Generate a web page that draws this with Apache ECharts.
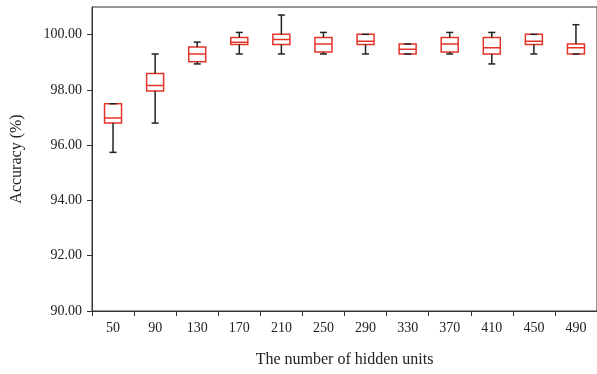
<!DOCTYPE html>
<html>
<head>
<meta charset="utf-8">
<script src="https://cdn.jsdelivr.net/npm/echarts@6/dist/echarts.min.js"></script>
<style>
  html, body { margin: 0; padding: 0; background: #fff; }
  #chart { width: 597px; height: 374px; }
</style>
</head>
<body>
<div id="chart"></div>
<script>
// hidden units on the x axis
const units = ['50', '90', '130', '170', '210', '250', '290', '330', '370', '410', '450', '490'];

// box statistics (accuracy, %)
const minVals = [95.74, 96.80, 98.94, 99.30, 99.30, 99.30, 99.30, 99.30, 99.30, 98.94, 99.30, 99.30];
const q1Vals = [96.80, 97.96, 99.02, 99.64, 99.64, 99.37, 99.64, 99.30, 99.37, 99.30, 99.64, 99.30];
const medVals = [96.98, 98.16, 99.30, 99.72, 99.82, 99.66, 99.76, 99.47, 99.66, 99.53, 99.76, 99.53];
const q3Vals = [97.50, 98.59, 99.55, 99.90, 100.01, 99.90, 100.01, 99.66, 99.90, 99.90, 100.01, 99.66];
const maxVals = [97.50, 99.30, 99.73, 100.08, 100.71, 100.08, 100.01, 99.66, 100.08, 100.08, 100.01, 100.36];

const yTicks = [90, 92, 94, 96, 98, 100];

const chart = echarts.init(document.getElementById('chart'));

const font = 'Liberation Serif';
const red = '#e3342a';

// box part only: whiskers are drawn on top in black
const boxData = units.map((u, i) => [q1Vals[i], q1Vals[i], medVals[i], q3Vals[i], q3Vals[i]]);
const whiskerData = units.map((u, i) => [i, minVals[i], q1Vals[i], q3Vals[i], maxVals[i]]);

const option = {
  animation: false,
  grid: {
    left: 92, top: 7, right: -4, bottom: 63,
    show: true, borderColor: '#333', borderWidth: 1
  },
  xAxis: {
    type: 'category',
    data: units,
    boundaryGap: true,
    name: 'The number of hidden units',
    nameLocation: 'middle',
    nameGap: 41,
    nameTextStyle: { fontFamily: font, fontSize: 16, color: '#222' },
    axisLine: { lineStyle: { color: '#333', width: 1 } },
    axisTick: { show: true, alignWithLabel: false, length: 5, lineStyle: { color: '#333' } },
    axisLabel: { fontFamily: font, fontSize: 14, color: '#222', margin: 10 },
    splitLine: { show: false }
  },
  yAxis: {
    type: 'value',
    min: 90,
    max: 101,
    interval: 2,
    name: 'Accuracy (%)',
    nameLocation: 'middle',
    nameGap: 67,
    nameTextStyle: { fontFamily: font, fontSize: 16, color: '#222' },
    axisLine: { show: true, lineStyle: { color: '#333', width: 1 } },
    axisTick: { show: true, length: 5, customValues: yTicks, lineStyle: { color: '#333' } },
    axisLabel: {
      fontFamily: font, fontSize: 14, color: '#222', margin: 10,
      customValues: yTicks,
      formatter: v => v.toFixed(2)
    },
    splitLine: { show: false }
  },
  series: [
    {
      type: 'boxplot',
      data: boxData,
      boxWidth: [17, 17],
      itemStyle: { color: '#fff', borderColor: red, borderWidth: 1.5 },
      z: 2
    },
    {
      type: 'custom',
      data: whiskerData,
      z: 3,
      renderItem: function (params, api) {
        const idx = api.value(0);
        const pMin = api.coord([idx, api.value(1)]);
        const pQ1 = api.coord([idx, api.value(2)]);
        const pQ3 = api.coord([idx, api.value(3)]);
        const pMax = api.coord([idx, api.value(4)]);
        const x = pMin[0];
        const hw = 3.5;
        const style = { stroke: '#222', lineWidth: 1.5 };
        return {
          type: 'group',
          children: [
            { type: 'line', shape: { x1: x, y1: pQ3[1], x2: x, y2: pMax[1] }, style },
            { type: 'line', shape: { x1: x, y1: pQ1[1], x2: x, y2: pMin[1] }, style },
            { type: 'line', shape: { x1: x - hw, y1: pMax[1], x2: x + hw, y2: pMax[1] }, style },
            { type: 'line', shape: { x1: x - hw, y1: pMin[1], x2: x + hw, y2: pMin[1] }, style }
          ]
        };
      }
    }
  ]
};

chart.setOption(option);
</script>
</body>
</html>
